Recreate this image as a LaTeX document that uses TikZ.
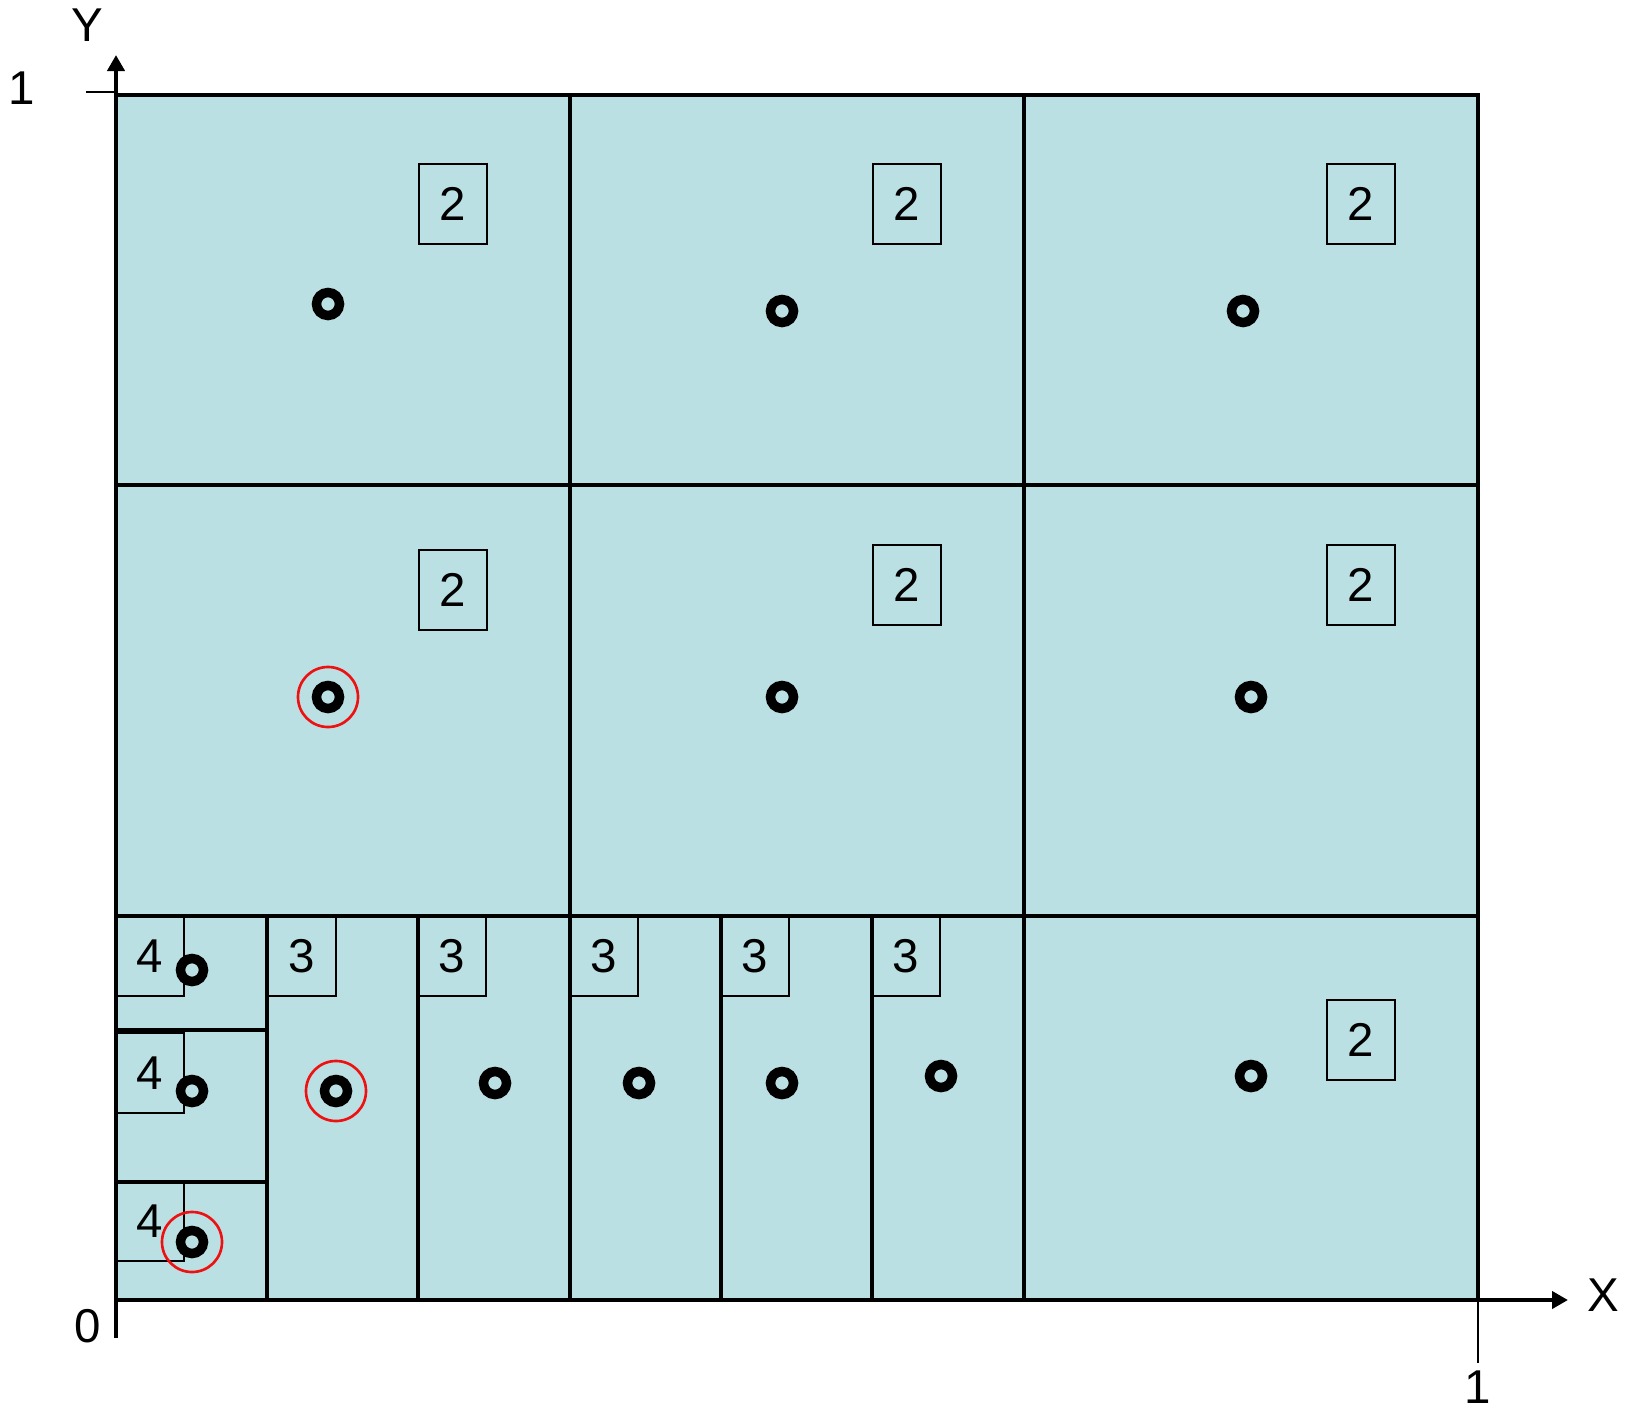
\documentclass[tikz,border=0pt]{standalone}
\usepackage{fontspec}
\setmainfont{Liberation Sans}
\usetikzlibrary{
arrows.meta,
positioning
}
\definecolor{cellfill}{HTML}{BBE0E3}
\definecolor{pickred}{HTML}{EE1111}

\begin{document}
\begin{tikzpicture}[
x=0.01cm,
y=-0.01cm,
cell/.style={
draw=black,
fill=cellfill,
line width=0.95pt
},
tag/.style={
rectangle,
draw=black,
line width=0.5pt,
minimum width=0.68cm,
minimum height=0.8cm,
inner sep=0pt,
font=\fontsize{13.5}{15}\selectfont
},
sample/.style={
circle,
draw=black,
line width=2.7pt,
minimum size=0.23cm,
inner sep=0pt
},
pick/.style={
circle,
draw=pickred,
line width=0.75pt,
minimum size=0.6cm,
inner sep=0pt
},
lbl/.style={font=\fontsize{13.5}{15}\selectfont, inner sep=0pt},
axis/.style={line width=1.25pt, -{Triangle[length=0.16cm,width=0.17cm]}}
]

\useasboundingbox (0,0) rectangle (1633,1409);

% level 2 cells
\draw[cell] (116,95) rectangle (570,485);
\draw[cell] (570,95) rectangle (1024,485);
\draw[cell] (1024,95) rectangle (1478,485);
\draw[cell] (116,485) rectangle (570,916);
\draw[cell] (570,485) rectangle (1024,916);
\draw[cell] (1024,485) rectangle (1478,916);
\draw[cell] (1024,916) rectangle (1478,1300);

% level 3 cells
\draw[cell] (267,916) rectangle (418,1300);
\draw[cell] (418,916) rectangle (570,1300);
\draw[cell] (570,916) rectangle (721,1300);
\draw[cell] (721,916) rectangle (872,1300);
\draw[cell] (872,916) rectangle (1024,1300);

% level 4 cells
\draw[cell] (116,916) rectangle (267,1030);
\draw[cell] (116,1030) rectangle (267,1182);
\draw[cell] (116,1182) rectangle (267,1300);

% level tags
\node[tag] (t1) at (453,204) {2};
\node[tag] (t2) at (907,204) {2};
\node[tag] (t3) at (1361,204) {2};
\node[tag] (t4) at (453,590) {2};
\node[tag] (t5) at (907,585) {2};
\node[tag] (t6) at (1361,585) {2};
\node[tag] (t7) at (1361,1040) {2};

\node[tag] (u1) at (302,956) {3};
\node[tag] (u2) at (452,956) {3};
\node[tag] (u3) at (604,956) {3};
\node[tag] (u4) at (755,956) {3};
\node[tag] (u5) at (906,956) {3};

\node[tag] (v1) at (150,956) {4};
\node[tag] (v2) at (150,1073) {4};
\node[tag] (v3) at (150,1221) {4};

% sample points
\node[sample] (s1) at (328,304) {};
\node[sample] (s2) at (782,311) {};
\node[sample] (s3) at (1243,311) {};
\node[sample] (s4) at (328,697) {};
\node[sample] (s5) at (782,697) {};
\node[sample] (s6) at (1251,697) {};
\node[sample] (s7) at (192,970) {};
\node[sample] (s8) at (192,1091) {};
\node[sample] (s9) at (192,1242) {};
\node[sample] (s10) at (336,1091) {};
\node[sample] (s11) at (495,1083) {};
\node[sample] (s12) at (639,1083) {};
\node[sample] (s13) at (782,1083) {};
\node[sample] (s14) at (941,1076) {};
\node[sample] (s15) at (1251,1076) {};

% chosen points
\node[pick] (p1) at (s4) {};
\node[pick] (p2) at (s10) {};
\node[pick] (p3) at (s9) {};

% axes
\coordinate (o) at (116,1300);
\coordinate (ylow) at (116,1338);
\coordinate (ytop) at (116,55);
\coordinate (xend) at (1568,1300);
\coordinate (yt1) at (86,92);
\coordinate (yt2) at (116,92);
\coordinate (xt1) at (1478,1300);
\coordinate (xt2) at (1478,1363);

\draw[axis] (ylow) -- (ytop);
\draw[axis] (o) -- (xend);
\draw[line width=0.5pt] (yt1) -- (yt2);
\draw[line width=0.5pt] (xt1) -- (xt2);

\node[lbl] (ylab) at (87,25) {Y};
\node[lbl] (xlab) at (1603,1295) {X};
\node[lbl] (y1) at (22,88) {1};
\node[lbl] (x0) at (88,1326) {0};
\node[lbl] (x1) at (1478,1387) {1};

\end{tikzpicture}
\end{document}
